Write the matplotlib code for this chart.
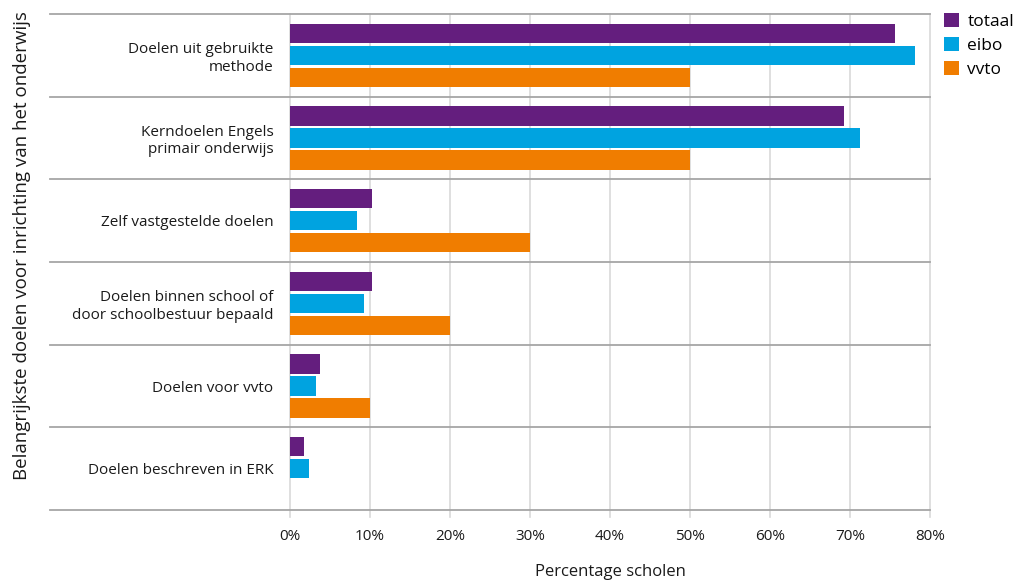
import numpy as np
import matplotlib
matplotlib.use("Agg")
import matplotlib.pyplot as plt
from matplotlib.patches import Patch

plt.rcParams['font.family'] = ['Open Sans', 'DejaVu Sans']

# data
categories = ["Doelen uit gebruikte\nmethode",
              "Kerndoelen Engels\nprimair onderwijs",
              "Zelf vastgestelde doelen",
              "Doelen binnen school of\ndoor schoolbestuur bepaald",
              "Doelen voor vvto",
              "Doelen beschreven in ERK"]
series = ["totaal", "eibo", "vvto"]
totaal = [75.6, 69.3, 10.3, 10.3, 3.7, 1.7]
eibo = [78.1, 71.3, 8.4, 9.3, 3.2, 2.4]
vvto = [50.0, 50.0, 30.0, 20.0, 10.0, 0.0]
colors = ["#641e7e", "#00a3e0", "#f07d00"]
xticks = [0, 10, 20, 30, 40, 50, 60, 70, 80]

fig = plt.figure(figsize=(10.15, 5.86), dpi=100)
ax = fig.add_axes([290/1015, 1-510/586, 640/1015, 496/586])

y = np.arange(len(categories))
h = 0.235
step = 0.265
for i, (vals, c) in enumerate(zip([totaal, eibo, vvto], colors)):
    ax.barh(y + (i - 1) * step, vals, height=h, color=c, zorder=3)

ax.set_ylim(len(categories) - 0.5, -0.5)
ax.set_xlim(0, 80)

# vertical grid lines, running slightly below the axis like ticks
for xv in xticks:
    ax.plot([xv, xv], [-0.5, len(categories) - 0.5 + 0.08], color="#d9d9d9",
            lw=1.2, clip_on=False, zorder=1)

# category separators reaching into the label area
trans = ax.get_yaxis_transform()
for b in np.arange(-0.5, len(categories), 1.0):
    ax.plot([-0.375, 1.0], [b, b], transform=trans, color="#a6a6a6",
            lw=1.3, clip_on=False, zorder=2)

for s in ax.spines.values():
    s.set_visible(False)

ax.set_yticks(y)
ax.set_yticklabels(categories, fontsize=11, color="#1a1a1a", linespacing=1.2)
ax.tick_params(axis='y', length=0, pad=12)
ax.set_xticks(xticks)
ax.set_xticklabels([f"{v}%" for v in xticks], fontsize=11, color="#1a1a1a")
ax.tick_params(axis='x', length=0, pad=14)

ax.set_xlabel("Percentage scholen", fontsize=12, color="#1a1a1a", labelpad=14)
fig.text(22/1015, 1-246/586, "Belangrijkste doelen voor inrichting van het onderwijs",
         rotation=90, ha="center", va="center", fontsize=13.5, color="#1a1a1a")

handles = [Patch(facecolor=c, label=s) for s, c in zip(series, colors)]
fig.legend(handles=handles, loc="upper left", bbox_to_anchor=(937/1015, 1-6/586),
           frameon=False, fontsize=12.5, handlelength=0.85, handleheight=0.85,
           handletextpad=0.5, labelspacing=0.4, borderaxespad=0)

fig.savefig("out.png", dpi=100)
